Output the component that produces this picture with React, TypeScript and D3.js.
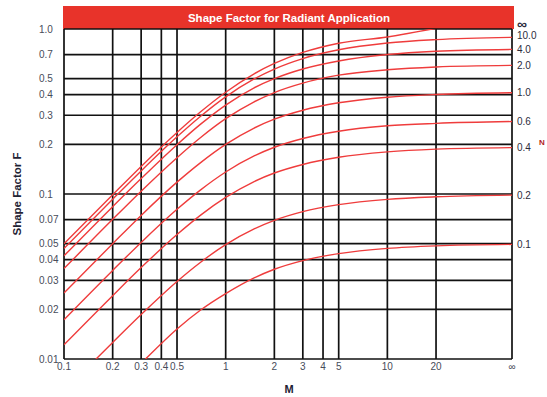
import { useEffect, useRef } from 'react';
import * as d3 from 'd3';

// M positions sampled along every curve (59 stands for the "∞" column)
const mValues = [0.1, 0.2, 0.3, 0.5, 0.7, 1, 1.5, 2, 3, 5, 10, 20, 59];

// shape factor F
const fInf = [0.0499, 0.099, 0.147, 0.236, 0.315, 0.414, 0.535, 0.618, 0.721, 0.82, 0.895, 1.01, null];
const f10 = [0.0468, 0.093, 0.138, 0.222, 0.296, 0.388, 0.498, 0.572, 0.662, 0.748, 0.822, 0.862, 0.89];
const f4 = [0.0422, 0.0838, 0.124, 0.199, 0.265, 0.346, 0.44, 0.5, 0.572, 0.64, 0.7, 0.733, 0.752];
const f2 = [0.0353, 0.0702, 0.104, 0.166, 0.22, 0.286, 0.362, 0.412, 0.47, 0.525, 0.566, 0.589, 0.602];
const f1 = [0.0251, 0.05, 0.0742, 0.118, 0.155, 0.1998, 0.251, 0.284, 0.322, 0.357, 0.386, 0.401, 0.411];
const f06 = [0.0173, 0.0344, 0.0509, 0.0808, 0.106, 0.136, 0.17, 0.192, 0.217, 0.24, 0.259, 0.268, 0.275];
const f04 = [0.0122, 0.0242, 0.0358, 0.0568, 0.0745, 0.0953, 0.119, 0.134, 0.151, 0.167, 0.18, 0.187, 0.191];
const f02 = [0.0064, 0.0126, 0.0186, 0.0295, 0.0386, 0.0493, 0.0614, 0.0692, 0.0782, 0.0862, 0.0928, 0.0962, 0.0985];
const f01 = [0.0032, 0.0063, 0.0094, 0.0152, 0.0198, 0.0249, 0.031, 0.035, 0.0395, 0.0435, 0.0468, 0.0485, 0.0495];

const curveLabels = ['∞', '10.0', '4.0', '2.0', '1.0', '0.6', '0.4', '0.2', '0.1'];
const curveValues = [fInf, f10, f4, f2, f1, f06, f04, f02, f01];

const xTicks = [0.1, 0.2, 0.3, 0.4, 0.5, 1, 2, 3, 4, 5, 10, 20, 59];
const xTickLabels = ['0.1', '0.2', '0.3', '0.4', '0.5', '1', '2', '3', '4', '5', '10', '20', '∞'];
const yTicks = [1, 0.7, 0.5, 0.4, 0.3, 0.2, 0.1, 0.07, 0.05, 0.04, 0.03, 0.02, 0.01];
const yTickLabels = ['1.0', '0.7', '0.5', '0.4', '0.3', '0.2', '0.1', '0.07', '0.05', '0.04', '0.03', '0.02', '0.01'];

const FONT = '"Liberation Sans", Arial, sans-serif';

export default function App() {
  const ref = useRef<SVGSVGElement>(null);

  useEffect(() => {
    const svg = d3.select(ref.current);
    svg.selectAll('*').remove();

    const left = 64, right = 512, top = 29, bottom = 359;
    const x = d3.scaleLog().domain([0.1, 59]).range([left, right]);
    const y = d3.scaleLog().domain([0.01, 1]).range([bottom, top]);

    svg.append('defs').append('clipPath').attr('id', 'plotClip')
      .append('rect')
      .attr('x', left).attr('y', top)
      .attr('width', right - left).attr('height', bottom - top);

    // title bar
    svg.append('rect')
      .attr('x', 63).attr('y', 6)
      .attr('width', 451).attr('height', top - 6)
      .attr('fill', '#e8332a');
    svg.append('text')
      .attr('x', 289).attr('y', 21.5)
      .attr('text-anchor', 'middle')
      .attr('fill', '#fff')
      .attr('font-family', FONT)
      .attr('font-weight', 'bold')
      .attr('font-size', 11.5)
      .text('Shape Factor for Radiant Application');

    // grid
    const grid = svg.append('g').attr('stroke', '#111').attr('stroke-width', 1.7);
    grid.selectAll('.vline')
      .data(xTicks)
      .join('line')
      .attr('class', 'vline')
      .attr('x1', d => x(d)).attr('x2', d => x(d))
      .attr('y1', top).attr('y2', bottom);
    grid.selectAll('.hline')
      .data(yTicks)
      .join('line')
      .attr('class', 'hline')
      .attr('x1', left).attr('x2', right)
      .attr('y1', d => y(d)).attr('y2', d => y(d));

    // curves
    const line = d3.line<[number, number | null]>()
      .defined(d => d[1] != null)
      .x(d => x(d[0]))
      .y(d => y(d[1] as number))
      .curve(d3.curveMonotoneX);

    svg.append('g')
      .attr('clip-path', 'url(#plotClip)')
      .selectAll('path')
      .data(curveValues)
      .join('path')
      .attr('fill', 'none')
      .attr('stroke', '#ef3c3c')
      .attr('stroke-width', 1.4)
      .attr('d', vals => line(mValues.map((m, i) => [m, vals[i]] as [number, number | null])));

    // left tick labels
    svg.append('g')
      .selectAll('text')
      .data(yTicks)
      .join('text')
      .attr('x', 39)
      .attr('y', d => y(d) + 3.5)
      .attr('fill', '#474c5a')
      .attr('font-family', FONT)
      .attr('font-size', 10)
      .text((d, i) => yTickLabels[i]);

    // bottom tick labels
    svg.append('g')
      .selectAll('text')
      .data(xTicks)
      .join('text')
      .attr('x', d => x(d))
      .attr('y', 370)
      .attr('text-anchor', 'middle')
      .attr('fill', '#474c5a')
      .attr('font-family', FONT)
      .attr('font-size', 10)
      .text((d, i) => xTickLabels[i]);

    // curve labels on the right
    svg.append('g')
      .selectAll('text')
      .data(curveValues)
      .join('text')
      .attr('x', 517)
      .attr('y', (vals, i) => i === 0 ? 28.5 : y(vals[vals.length - 1] as number) + 3.5 - (i === 1 ? 1.5 : 0))
      .attr('fill', '#2c2c3c')
      .attr('font-family', FONT)
      .attr('font-weight', (vals, i) => i === 0 ? 'bold' : 'normal')
      .attr('font-size', (vals, i) => i === 0 ? 14 : 10)
      .text((vals, i) => curveLabels[i]);

    // small N marker at the right edge
    svg.append('text')
      .attr('x', 539).attr('y', 145)
      .attr('fill', '#b22222')
      .attr('font-family', FONT)
      .attr('font-weight', 'bold')
      .attr('font-size', 8)
      .text('N');

    // axis titles
    svg.append('text')
      .attr('x', 289).attr('y', 393)
      .attr('text-anchor', 'middle')
      .attr('fill', '#1e2233')
      .attr('font-family', FONT)
      .attr('font-weight', 'bold')
      .attr('font-size', 11)
      .text('M');

    svg.append('text')
      .attr('transform', 'translate(21, 194) rotate(-90)')
      .attr('text-anchor', 'middle')
      .attr('fill', '#1e2233')
      .attr('font-family', FONT)
      .attr('font-weight', 'bold')
      .attr('font-size', 11)
      .attr('textLength', 83)
      .attr('lengthAdjust', 'spacingAndGlyphs')
      .text('Shape Factor F');
  }, []);

  return (
    <svg
      ref={ref}
      width={547}
      height={397}
      style={{ position: 'absolute', left: 0, top: 0, background: '#fff' }}
    />
  );
}
